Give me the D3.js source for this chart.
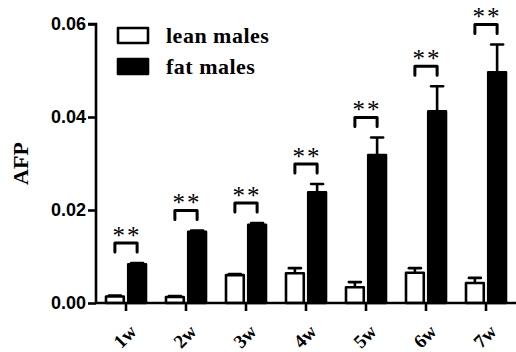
<!DOCTYPE html>
<html>
<head>
<meta charset="utf-8">
<script src="https://cdn.jsdelivr.net/npm/d3@7"></script>
<style>
  html, body { margin: 0; padding: 0; background: #fff; }
  svg { display: block; }
</style>
</head>
<body>
<div id="chart"></div>
<script>
// 数据
const weeks = ['1w', '2w', '3w', '4w', '5w', '6w', '7w'];
const groups = ['lean males', 'fat males'];
const leanMean = [0.0014, 0.0013, 0.0060, 0.0064, 0.0034, 0.0065, 0.0043];
const leanErr  = [0.0002, 0.0002, 0.0002, 0.0011, 0.0011, 0.0010, 0.0011];
const fatMean  = [0.0083, 0.0153, 0.0168, 0.0238, 0.0318, 0.0412, 0.0496];
const fatErr   = [0.0003, 0.0003, 0.0004, 0.0018, 0.0038, 0.0054, 0.0060];
const signif   = ['**', '**', '**', '**', '**', '**', '**'];
const yTicks   = [0, 0.02, 0.04, 0.06];

const W = 516, H = 352;
const margin = { top: 24, right: 0, bottom: 49, left: 96 };

const svg = d3.select('#chart').append('svg')
  .attr('width', W)
  .attr('height', H);

const x = d3.scaleBand()
  .domain(weeks)
  .range([margin.left, W - margin.right]);

const xSub = d3.scaleBand()
  .domain(groups)
  .range([10, 50])
  .paddingInner(0.2);

const y = d3.scaleLinear()
  .domain([0, 0.06])
  .range([H - margin.bottom, margin.top]);

const rows = weeks.map((w, i) => ({
  week: w,
  lean: leanMean[i], leanE: leanErr[i],
  fat: fatMean[i], fatE: fatErr[i],
  sig: signif[i]
}));

// 误差线（先画，柱子盖住下半段）
const errG = svg.append('g').attr('stroke', '#000').attr('stroke-width', 2.6);
rows.forEach(d => {
  [['lean males', d.lean, d.leanE], ['fat males', d.fat, d.fatE]].forEach(([g, m, e]) => {
    const cx = x(d.week) + xSub(g) + xSub.bandwidth() / 2;
    errG.append('line')
      .attr('x1', cx).attr('x2', cx)
      .attr('y1', y(m)).attr('y2', y(m + e));
    errG.append('line')
      .attr('x1', cx - 6).attr('x2', cx + 6)
      .attr('y1', y(m + e)).attr('y2', y(m + e))
      .attr('stroke-linecap', 'round');
  });
});

// 柱子
const barG = svg.append('g');
rows.forEach(d => {
  barG.append('rect')
    .attr('x', x(d.week) + xSub('lean males'))
    .attr('y', y(d.lean))
    .attr('width', xSub.bandwidth())
    .attr('height', y(0) - y(d.lean))
    .attr('fill', '#fff')
    .attr('stroke', '#000')
    .attr('stroke-width', 2.6)
    .attr('stroke-linejoin', 'round');
  barG.append('rect')
    .attr('x', x(d.week) + xSub('fat males'))
    .attr('y', y(d.fat))
    .attr('width', xSub.bandwidth())
    .attr('height', y(0) - y(d.fat))
    .attr('fill', '#000')
    .attr('stroke', '#000')
    .attr('stroke-width', 2.6)
    .attr('stroke-linejoin', 'round');
});

// 显著性括号
const sigG = svg.append('g');
rows.forEach(d => {
  const x1 = x(d.week) + xSub('lean males') + xSub.bandwidth() / 2;
  const x2 = x(d.week) + xSub('fat males') + xSub.bandwidth() / 2;
  const yb = y(d.fat + d.fatE) - 11;
  const yt = yb - 9;
  sigG.append('path')
    .attr('d', `M${x1},${yb}V${yt}H${x2}V${yb}`)
    .attr('fill', 'none')
    .attr('stroke', '#000')
    .attr('stroke-width', 3)
    .attr('stroke-linejoin', 'round')
    .attr('stroke-linecap', 'round');
  sigG.append('text')
    .attr('x', (x1 + x2) / 2 + 1)
    .attr('y', yt + 1)
    .attr('text-anchor', 'middle')
    .attr('font-family', "'Liberation Serif', serif")
    .attr('font-size', 25)
    .attr('letter-spacing', 2)
    .text(d.sig);
});

// Y 轴
const yAxis = svg.append('g')
  .attr('transform', `translate(${margin.left},0)`)
  .call(d3.axisLeft(y).tickValues(yTicks).tickFormat(d3.format('.2f')).tickSize(8).tickPadding(2));
yAxis.select('.domain').attr('d', `M-8,${y(0.06)}H0V${y(0)}`);

// X 轴
const xAxis = svg.append('g')
  .attr('transform', `translate(0,${y(0)})`)
  .call(d3.axisBottom(x).tickSize(8).tickPadding(4));
xAxis.select('.domain').attr('d', `M${margin.left},0H${W}`);

svg.selectAll('.domain, .tick line')
  .attr('stroke', '#000')
  .attr('stroke-width', 2.6);

yAxis.selectAll('.tick text')
  .attr('font-family', "'Liberation Sans', Arial, sans-serif")
  .attr('font-weight', 'bold')
  .attr('font-size', 18)
  .attr('fill', '#000');

xAxis.selectAll('.tick text')
  .attr('font-family', "'Liberation Serif', serif")
  .attr('font-weight', 'bold')
  .attr('font-size', 19)
  .attr('fill', '#000')
  .attr('text-anchor', 'end')
  .attr('x', 0)
  .attr('y', 0)
  .attr('dy', '0.35em')
  .attr('transform', 'translate(7,25) rotate(-45)');

// Y 轴标题
svg.append('text')
  .attr('transform', `translate(28,${(y(0) + y(0.06)) / 2}) rotate(-90)`)
  .attr('text-anchor', 'middle')
  .attr('font-family', "'Liberation Serif', serif")
  .attr('font-weight', 'bold')
  .attr('font-size', 22)
  .text('AFP');

// 图例
const legend = svg.append('g').attr('transform', 'translate(118,28)');
groups.forEach((g, i) => {
  legend.append('rect')
    .attr('x', 0)
    .attr('y', i * 31)
    .attr('width', 30)
    .attr('height', 15)
    .attr('fill', i === 0 ? '#fff' : '#000')
    .attr('stroke', '#000')
    .attr('stroke-width', 2.6)
    .attr('stroke-linejoin', 'round');
  legend.append('text')
    .attr('x', 48)
    .attr('y', i * 31 + 15)
    .attr('font-family', "'Liberation Serif', serif")
    .attr('font-weight', 'bold')
    .attr('font-size', 22)
    .attr('letter-spacing', 0.5)
    .text(g);
});
</script>
</body>
</html>
